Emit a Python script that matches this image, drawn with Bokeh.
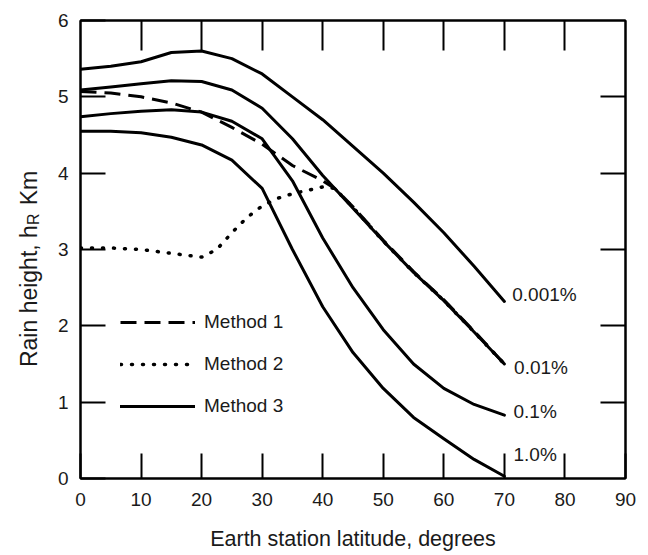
import math
from bokeh.plotting import figure
from bokeh.layouts import row
from bokeh.models import LinearAxis, FixedTicker, Label, Legend, LegendItem
from bokeh.core.properties import value
from bokeh.embed import file_html
from bokeh.resources import INLINE

# ---- data ----
lat = [0, 5, 10, 15, 20, 25, 30, 35, 40, 45, 50, 55, 60, 65, 70]
h_0001 = [5.36, 5.40, 5.46, 5.58, 5.60, 5.50, 5.30, 5.00, 4.70, 4.35, 4.00, 3.62, 3.22, 2.78, 2.32]
h_001 = [5.09, 5.13, 5.17, 5.21, 5.20, 5.09, 4.85, 4.45, 3.97, 3.54, 3.11, 2.70, 2.33, 1.92, 1.50]
h_01 = [4.74, 4.78, 4.81, 4.83, 4.80, 4.68, 4.45, 3.90, 3.15, 2.50, 1.95, 1.50, 1.18, 0.97, 0.83]
h_1 = [4.55, 4.55, 4.53, 4.47, 4.37, 4.17, 3.80, 3.00, 2.25, 1.65, 1.18, 0.80, 0.52, 0.25, 0.03]

m1_lat = [0, 5, 10, 15, 20, 25, 30, 35, 40, 42, 45, 50, 55, 60, 65, 70]
m1 = [5.07, 5.05, 5.00, 4.92, 4.80, 4.60, 4.38, 4.10, 3.90, 3.80, 3.56, 3.12, 2.71, 2.34, 1.93, 1.50]

m2_lat = [0, 5, 10, 15, 20, 22.5, 25, 27.5, 30, 32.5, 35, 40, 42, 45, 50, 55, 60, 65, 70]
m2 = [3.02, 3.02, 3.00, 2.95, 2.90, 3.00, 3.22, 3.42, 3.57, 3.67, 3.73, 3.82, 3.80, 3.55, 3.11, 2.70, 2.33, 1.92, 1.50]

curve_names = ["0.001%", "0.01%", "0.1%", "1.0%"]
method_names = ["Method 1", "Method 2", "Method 3"]
x_ticks = [0, 10, 20, 30, 40, 50, 60, 70, 80, 90]
y_ticks = [0, 1, 2, 3, 4, 5, 6]

FONT = "Liberation Sans"
TXT = "#1a1a1a"
H = 553
TOP, BOT = 20, 73

p = figure(width=602, height=H, x_range=(0, 90), y_range=(0, 6),
           output_backend="svg", toolbar_location=None,
           min_border_left=36, min_border_right=21, min_border_top=TOP, min_border_bottom=BOT)
p.background_fill_color = "white"
p.border_fill_color = "white"
p.outline_line_color = "black"
p.outline_line_width = 2
p.xgrid.visible = False
p.ygrid.visible = False

def style_axis(ax, ticks, tick_len, labels=True):
    ax.ticker = FixedTicker(ticks=ticks)
    ax.major_tick_in = tick_len
    ax.major_tick_out = 0
    ax.minor_tick_line_color = None
    ax.major_tick_line_width = 2
    ax.major_tick_line_color = "black"
    ax.axis_line_width = 2
    ax.axis_line_color = "black"
    ax.major_label_text_font = FONT
    if labels:
        ax.major_label_text_font_size = "19px"
        ax.major_label_text_color = TXT
        ax.major_label_standoff = 14
    else:
        ax.major_label_text_font_size = "0px"
        ax.major_label_text_color = None
        ax.major_label_standoff = 0

style_axis(p.xaxis[0], x_ticks, 25)
style_axis(p.yaxis[0], y_ticks, 25)
p.yaxis[0].major_label_standoff = 12
p.xaxis[0].axis_label = "Earth station latitude, degrees"
p.xaxis[0].axis_label_text_font = FONT
p.xaxis[0].axis_label_text_font_size = "21.5px"
p.xaxis[0].axis_label_text_font_style = "normal"
p.xaxis[0].axis_label_text_color = TXT
p.xaxis[0].axis_label_standoff = 18

top = LinearAxis()
style_axis(top, [10, 20, 30, 40, 50, 60, 70, 80], 30, labels=False)
p.add_layout(top, "above")
right = LinearAxis()
style_axis(right, [1, 2, 3, 4, 5], 25, labels=False)
p.add_layout(right, "right")

# solid curves (Method 3)
solid = []
for ys in [h_0001, h_001, h_01, h_1]:
    r = p.line(lat, ys, line_color="black", line_width=3, line_join="round", line_cap="round")
    solid.append(r)

r1 = p.line(m1_lat, m1, line_color="black", line_width=3, line_dash="16 8", line_join="round")
r2 = p.line(m2_lat, m2, line_color="black", line_width=3.5, line_dash="1 10", line_cap="round")

# curve labels
label_pos = [(71.3, 2.41), (71.6, 1.45), (71.5, 0.88), (71.5, 0.32)]
for name, (lx, ly) in zip(curve_names, label_pos):
    p.add_layout(Label(x=lx, y=ly, text=name, text_font=FONT, text_font_size="19px",
                       text_color=TXT, text_baseline="middle", text_align="left"))

legend = Legend(items=[LegendItem(label=method_names[0], renderers=[r1]),
                       LegendItem(label=method_names[1], renderers=[r2]),
                       LegendItem(label=method_names[2], renderers=[solid[2]])],
                location=(40, 61), orientation="vertical")
legend.glyph_width = 75
legend.glyph_height = 20
legend.label_height = 20
legend.spacing = 20
legend.padding = 0
legend.margin = 0
legend.label_standoff = 9
legend.border_line_color = None
legend.background_fill_alpha = 0
legend.label_text_font = FONT
legend.label_text_font_size = "19px"
legend.label_text_color = TXT
p.add_layout(legend, "center")

# ---- left strip holding the rotated y-axis title (with subscript R) ----
t = figure(width=44, height=H, x_range=(0, 1), y_range=(0, 6),
           output_backend="svg", toolbar_location=None,
           min_border_left=0, min_border_right=0, min_border_top=TOP, min_border_bottom=BOT)
t.axis.visible = False
t.grid.visible = False
t.outline_line_color = None
t.background_fill_color = "white"
t.border_fill_color = "white"

ang = math.pi / 2
y0 = 1.46
t.text(x=[0.64], y=[y0], text=["Rain height, h"], angle=ang,
       text_font=value(FONT), text_font_size="23px", text_color=TXT,
       text_baseline="middle", text_align="left")
t.text(x=[0.76], y=[y0 + 1.86], text=["R"], angle=ang,
       text_font=value(FONT), text_font_size="16px", text_color=TXT,
       text_baseline="middle", text_align="left")
t.text(x=[0.64], y=[y0 + 2.12], text=["Km"], angle=ang,
       text_font=value(FONT), text_font_size="23px", text_color=TXT,
       text_baseline="middle", text_align="left")

layout = row(t, p, spacing=0)
open("out.html", "w").write(file_html(layout, INLINE))
